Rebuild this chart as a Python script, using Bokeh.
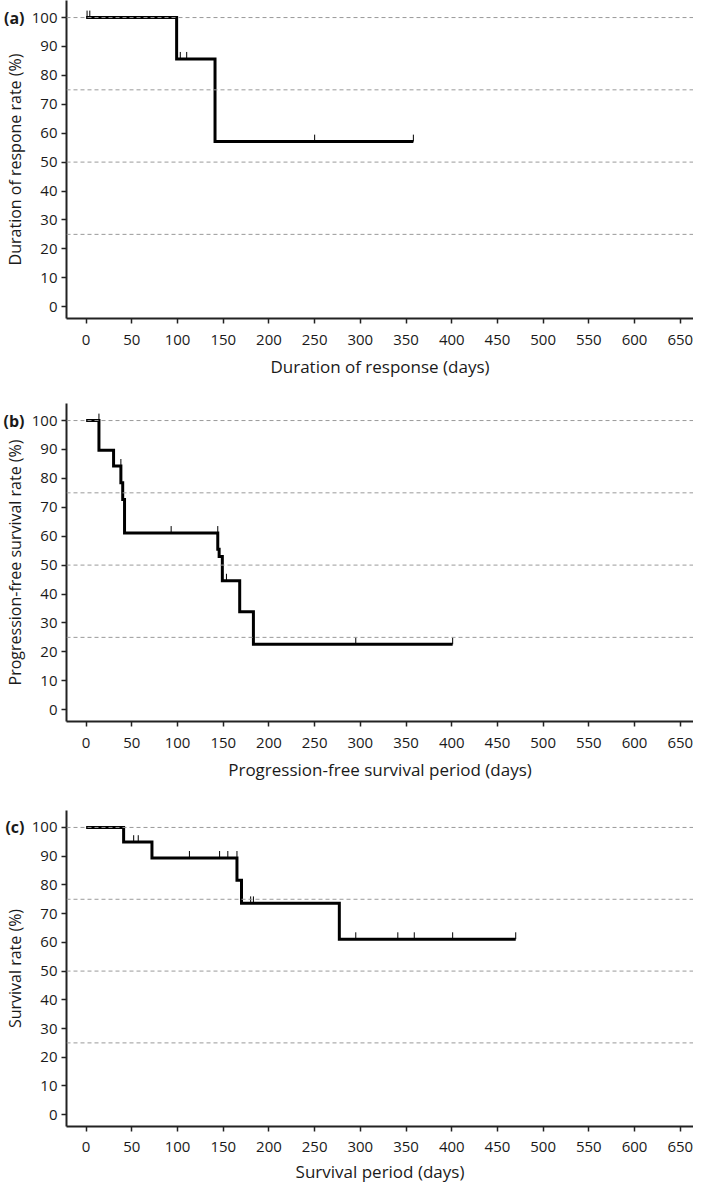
from bokeh.plotting import figure
from bokeh.layouts import column
from bokeh.models import FixedTicker, Span, Range1d, LinearAxis
from bokeh.embed import file_html
from bokeh.resources import INLINE

FONT = "Open Sans"

# ---------------- data ----------------
x_ticks = list(range(0, 651, 50))
y_ticks = list(range(0, 101, 10))
guide_levels = [25, 50, 75, 100]

panel_letters = ["(a)", "(b)", "(c)"]
x_titles = ["Duration of response (days)",
            "Progression-free survival period (days)",
            "Survival period (days)"]
y_titles = ["Duration of respone rate (%)",
            "Progression-free survival rate (%)",
            "Survival rate (%)"]

# Panel (a): duration of response
a_days = [0, 99, 141, 358]
a_surv = [100, 85.7, 57.1, 57.1]
a_censor_days = [1, 4, 103, 110, 250, 358]
a_censor_surv = [100, 100, 85.7, 85.7, 57.1, 57.1]

# Panel (b): progression-free survival
b_days = [0, 14, 30, 38, 40, 42, 144, 145.5, 149, 168, 183, 401]
b_surv = [100, 89.7, 84.3, 78.5, 72.7, 61.1, 55.5, 53.0, 44.6, 33.9, 22.6, 22.6]
b_censor_days = [14, 38, 93, 144, 153.5, 295, 401]
b_censor_surv = [100, 84.3, 61.1, 61.1, 44.6, 22.6, 22.6]

# Panel (c): overall survival
c_days = [0, 41, 72, 165, 170, 277, 470]
c_surv = [100, 94.9, 89.4, 81.6, 73.6, 61.1, 61.1]
c_censor_days = [52, 57, 113, 146, 155, 165, 180, 183, 295, 341, 359, 401, 470]
c_censor_surv = [94.9, 94.9, 89.4, 89.4, 89.4, 89.4, 73.6, 73.6,
                 61.1, 61.1, 61.1, 61.1, 61.1]

X_START, X_END = -21.5, 664.5
Y_START, Y_END = -4.1, 105.9
TICK_LEN = 2.4


def make_panel(idx, days, surv, cdays, csurv, height, bottom,
               lab_standoff, title_standoff):
    p = figure(width=693, height=height, output_backend="svg",
               toolbar_location=None,
               x_range=Range1d(X_START, X_END), y_range=Range1d(Y_START, Y_END),
               min_border_left=59, min_border_right=0,
               min_border_top=0, min_border_bottom=bottom)
    p.outline_line_color = None
    p.xgrid.visible = False
    p.ygrid.visible = False

    for lvl in guide_levels:
        p.add_layout(Span(location=lvl, dimension="width", line_color="#9a9a9a",
                          line_width=1, line_dash="4 3"))

    p.step(days, surv, mode="after", line_width=3, line_color="black",
           line_join="miter")
    p.segment(x0=cdays, y0=csurv, x1=cdays,
              y1=[v + TICK_LEN for v in csurv],
              line_color="black", line_width=1)

    p.xaxis.ticker = FixedTicker(ticks=x_ticks)
    p.yaxis.ticker = FixedTicker(ticks=y_ticks)
    for ax in (p.xaxis[0], p.yaxis[0]):
        ax.axis_line_color = "#222222"
        ax.axis_line_width = 2
        ax.major_tick_line_color = "#222222"
        ax.major_tick_line_width = 1.5
        ax.major_tick_in = 0
        ax.major_tick_out = 5
        ax.minor_tick_line_color = None
        ax.major_label_text_font = FONT
        ax.major_label_text_font_size = "15px"
        ax.major_label_text_color = "#1a1a1a"
        ax.axis_label_text_font = FONT
        ax.axis_label_text_font_style = "normal"
        ax.axis_label_text_color = "#1a1a1a"
    p.xaxis.axis_label_text_font_size = "17px"
    p.yaxis.axis_label_text_font_size = "16px"
    p.xaxis.axis_label = x_titles[idx]
    p.yaxis.axis_label = y_titles[idx]
    p.xaxis.major_label_standoff = lab_standoff
    p.xaxis.axis_label_standoff = title_standoff
    p.yaxis.major_label_standoff = 4
    p.yaxis.axis_label_standoff = 3

    # panel letter, drawn as the single label of an outer, line-less axis
    letter_axis = LinearAxis(ticker=FixedTicker(ticks=[100]),
                             major_label_overrides={100: panel_letters[idx]},
                             axis_line_color=None, major_tick_line_color=None,
                             minor_tick_line_color=None, major_tick_out=0,
                             major_tick_in=0, major_label_standoff=-24,
                             major_label_text_font=FONT,
                             major_label_text_font_style="bold",
                             major_label_text_font_size="16px",
                             major_label_text_color="#1a1a1a")
    p.add_layout(letter_axis, "left")
    return p


pa = make_panel(0, a_days, a_surv, a_censor_days, a_censor_surv,
                403, 85, 11, 7)
pb = make_panel(1, b_days, b_surv, b_censor_days, b_censor_surv,
                407, 89, 11, 7)
pc = make_panel(2, c_days, c_surv, c_censor_days, c_censor_surv,
                375, 57, 10, 5)

layout = column(pa, pb, pc, spacing=0)
open("out.html", "w").write(file_html(layout, INLINE))
